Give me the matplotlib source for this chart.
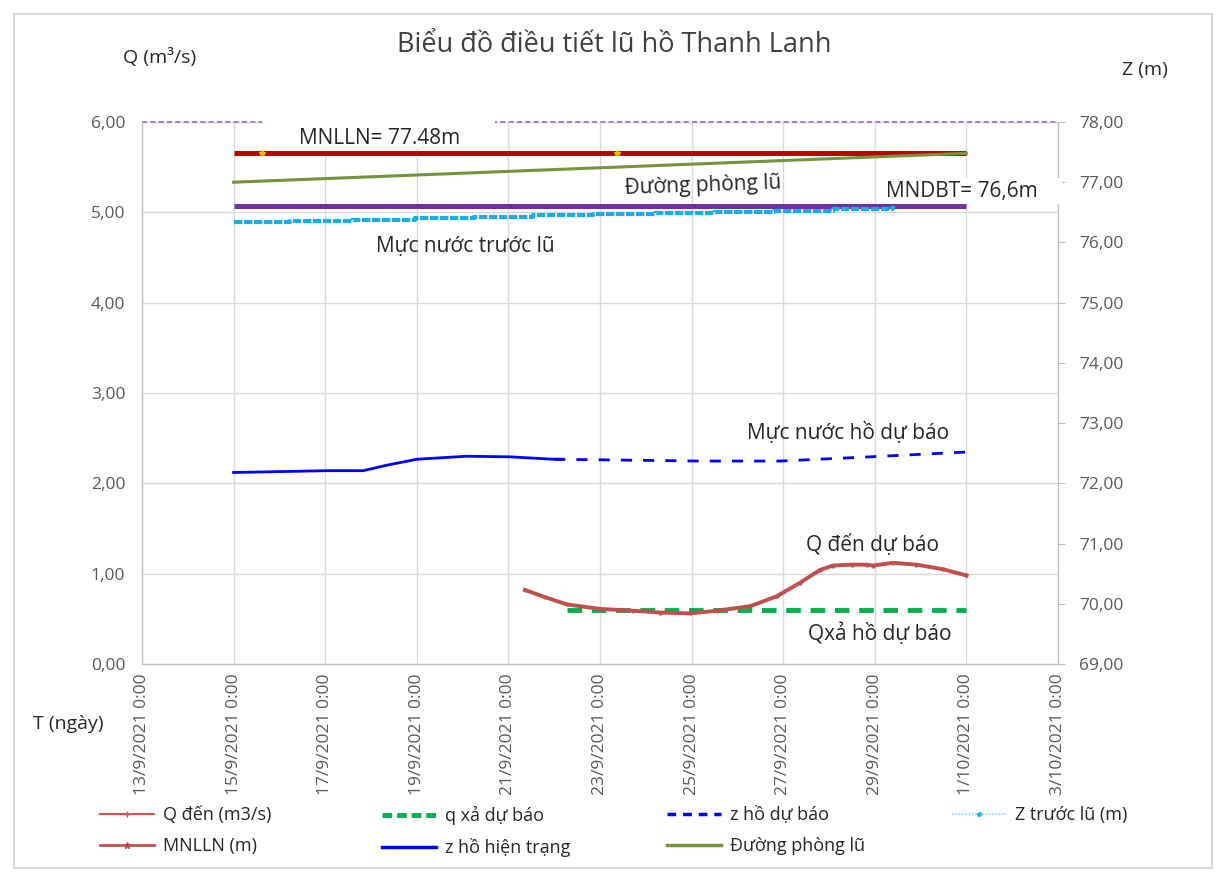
import matplotlib
matplotlib.use("Agg")
import matplotlib.pyplot as plt
import matplotlib.dates as mdates
from matplotlib.lines import Line2D
from matplotlib.patches import Rectangle
from datetime import datetime, timedelta

plt.rcParams['font.family'] = ['Open Sans', 'DejaVu Sans']

# ---------------- data ----------------
BASE = datetime(2021, 9, 13)

# Q den (m3/s), left axis; times as day offsets from 13/9/2021
q_den_day = [8.36, 8.8, 9.27, 10.0, 10.72, 11.31, 11.97, 12.55, 13.28, 13.86, 14.37,
             14.80, 15.09, 15.5, 15.82, 15.96, 16.40, 16.91, 17.48, 18.0]
q_den = [0.82, 0.74, 0.66, 0.61, 0.59, 0.57, 0.56, 0.59, 0.64, 0.75, 0.90,
         1.04, 1.09, 1.10, 1.10, 1.09, 1.12, 1.10, 1.05, 0.98]

# q xa du bao (m3/s), left axis
q_xa_day = [9.27, 18.0]
q_xa = [0.60, 0.60]

# z ho hien trang (m), right axis
z_ht_day = [2.0, 4.03, 4.83, 5.34, 6.0, 7.09, 8.03, 8.98, 9.19]
z_ht = [72.18, 72.21, 72.21, 72.30, 72.40, 72.45, 72.44, 72.40, 72.40]

# z ho du bao (m), right axis
z_db_day = [9.0, 12.18, 13.93, 15.9, 18.0]
z_db = [72.40, 72.37, 72.37, 72.44, 72.52]

# Z truoc lu (m), right axis, stepped
z_tl_day = [2.0, 3.23, 4.59, 5.96, 7.25, 8.54, 9.85, 11.2, 12.49, 13.8, 15.09, 16.38, 16.45]
z_tl = [76.34, 76.36, 76.38, 76.40, 76.42, 76.45, 76.47, 76.49, 76.51, 76.53, 76.55, 76.57, 76.57]

# MNLLN (m)
mnlln_day = [2.0, 2.62, 10.37, 18.0]
mnlln = [77.48, 77.48, 77.48, 77.48]

# Duong phong lu (m)
dpl_day = [2.0, 18.0]
dpl = [77.00, 77.48]

# MNDBT (m)
mndbt_day = [2.0, 18.0]
mndbt = [76.6, 76.6]

# top reference line (m)
top_day = [0.0, 20.0]
top_ref = [78.0, 78.0]

tick_days = list(range(0, 21, 2))
left_ticks = [0, 1, 2, 3, 4, 5, 6]
right_ticks = [69, 70, 71, 72, 73, 74, 75, 76, 77, 78]


def to_x(days):
    return [mdates.date2num(BASE + timedelta(days=d)) for d in days]


# ---------------- figure ----------------
W, H = 1224, 875
fig = plt.figure(figsize=(W / 100, H / 100), dpi=100)
fig.patch.set_facecolor('white')


def fx(px):
    return px / W


def fy(py):
    return 1 - py / H


ax = fig.add_axes([fx(142), fy(664), fx(1058) - fx(142), fy(122) - fy(664)])
ax2 = ax.twinx()

xmin, xmax = to_x([0, 20])
ax.set_xlim(xmin, xmax)
ax.set_ylim(0, 6)
ax2.set_ylim(69, 78)

grid_c = '#D9D9D9'
ax.set_yticks(left_ticks)
ax.set_yticklabels([f"{v:.2f}".replace('.', ',') for v in left_ticks])
ax2.set_yticks(right_ticks)
ax2.set_yticklabels([f"{v:.2f}".replace('.', ',') for v in right_ticks])
ax.set_xticks(to_x(tick_days))
ax.set_xticklabels([f"{(BASE + timedelta(days=d)).day}/{(BASE + timedelta(days=d)).month}/2021 0:00"
                    for d in tick_days], rotation=90, va='top', ha='center')
ax.grid(True, color=grid_c, lw=1)
ax.set_axisbelow(True)

for a in (ax, ax2):
    a.spines['top'].set_visible(False)
    a.spines['left'].set_color('#BFBFBF')
    a.spines['right'].set_color('#BFBFBF')
    a.spines['bottom'].set_color('#BFBFBF')
ax.tick_params(axis='y', length=0, labelsize=12.5, labelcolor='#595959', pad=12)
ax.tick_params(axis='x', length=0, labelsize=12.5, labelcolor='#595959', pad=7)
ax2.tick_params(axis='y', length=5, color='#BFBFBF', labelsize=12.5, labelcolor='#595959', pad=10)

# ---------------- series ----------------
ax2.plot(to_x(top_day), top_ref, color='#9966CC', lw=1.2, ls=(0, (3, 2)), zorder=1, clip_on=False)
ax2.plot(to_x(mndbt_day), mndbt, color='#7030A0', lw=3.6, solid_capstyle='butt', zorder=3)
ax2.plot(to_x(z_tl_day), z_tl, color='#19AEEB', lw=3, ls=(0, (2, 0.4)), drawstyle='steps-post', zorder=3)
ax2.plot(to_x(dpl_day), dpl, color='#77933C', lw=2.2, zorder=4)
ax2.plot(to_x(mnlln_day), mnlln, color='#C00000', lw=3.6, solid_capstyle='butt', zorder=3,
         marker='*', markersize=4, markevery=[1, 2], markerfacecolor='#FFC000', markeredgecolor='#FFC000')
ax2.plot(to_x(z_ht_day), z_ht, color='#0000FF', lw=2, zorder=4)
ax2.plot(to_x(z_db_day), z_db, color='#0000FF', lw=2, ls=(0, (4, 4)), zorder=4)
ax.plot(to_x(q_xa_day), q_xa, color='#00B050', lw=3.5, ls=(0, (3, 2)), zorder=3)
ax.plot(to_x(q_den_day), q_den, color='#C0504D', lw=2.8, zorder=4,
        marker='o', markersize=2, markevery=1)

# ---------------- texts ----------------
tc = '#262626'
ann = 15
fig.text(fx(614), fy(45), 'Biểu đồ điều tiết lũ hồ Thanh Lanh', ha='center', va='center',
         fontsize=19.5, color='#404040')
fig.text(fx(160), fy(58), 'Q (m³/s)', ha='center', va='center', fontsize=14, color=tc)
fig.text(fx(1145), fy(70), 'Z (m)', ha='center', va='center', fontsize=14, color=tc)
fig.text(fx(68), fy(724), 'T (ngày)', ha='center', va='center', fontsize=14, color=tc)

# white label boxes
fig.add_artist(Rectangle((fx(262), fy(149)), fx(495) - fx(262), fy(112) - fy(149),
                         transform=fig.transFigure, facecolor='white', edgecolor='none', zorder=9))
fig.add_artist(Rectangle((fx(885), fy(204)), fx(1062) - fx(885), fy(178) - fy(204),
                         transform=fig.transFigure, facecolor='white', edgecolor='none', zorder=9))

fig.text(fx(380), fy(139), 'MNLLN= 77.48m', ha='center', va='center', fontsize=ann, color=tc, zorder=10)
fig.text(fx(703), fy(186), 'Đường phòng lũ', ha='center', va='center', fontsize=ann, color=tc,
         rotation=2, zorder=10)
fig.text(fx(962), fy(192), 'MNDBT= 76,6m', ha='center', va='center', fontsize=ann, color=tc, zorder=10)
fig.text(fx(465), fy(246), 'Mực nước trước lũ', ha='center', va='center', fontsize=ann, color=tc)
fig.text(fx(848), fy(433), 'Mực nước hồ dự báo', ha='center', va='center', fontsize=ann, color=tc)
fig.text(fx(872), fy(545), 'Q đến dự báo', ha='center', va='center', fontsize=ann, color=tc)
fig.text(fx(880), fy(634), 'Qxả hồ dự báo', ha='center', va='center', fontsize=ann, color=tc)

# ---------------- legend ----------------
h_qden = Line2D([], [], color='#E05050', lw=1.5, marker='+', markersize=5)
h_mnlln = Line2D([], [], color='#C0504D', lw=2, marker='*', markersize=5, markerfacecolor='#C00000')
h_qxa = Line2D([], [], color='#00B050', lw=3.5, ls=(0, (2, 1)))
h_zht = Line2D([], [], color='#0000FF', lw=2.5)
h_zdb = Line2D([], [], color='#0000FF', lw=2.5, ls=(0, (2.5, 2)))
h_dpl = Line2D([], [], color='#77933C', lw=2.5)
h_ztl = Line2D([], [], color='#7FD4F5', lw=1.2, ls=(0, (1, 1)), marker='.', markersize=5,
               markevery=[1], markerfacecolor='#19AEEB', markeredgecolor='#19AEEB')

cols = [
    (100, [h_qden, h_mnlln], ['Q đến (m3/s)', 'MNLLN (m)']),
    (382, [h_qxa, h_zht], ['q xả dự báo', 'z hồ hiện trạng']),
    (667, [h_zdb, h_dpl], ['z hồ dự báo', 'Đường phòng lũ']),
    (952, [h_ztl], ['Z trước lũ (m)']),
]
for x0, hs, ls_ in cols:
    leg = fig.legend(hs, ls_, loc='upper left', bbox_to_anchor=(fx(x0), fy(806)),
                     frameon=False, fontsize=13, handlelength=3.0, handletextpad=0.5,
                     labelspacing=0.72, borderpad=0, borderaxespad=0)
    for t in leg.get_texts():
        t.set_color(tc)

# outer chart border
fig.add_artist(Rectangle((fx(14), fy(868)), fx(1212) - fx(14), fy(14) - fy(868),
                         transform=fig.transFigure, fill=False, edgecolor='#D0D0D0', lw=1.2))

fig.savefig('out.png', dpi=100)
